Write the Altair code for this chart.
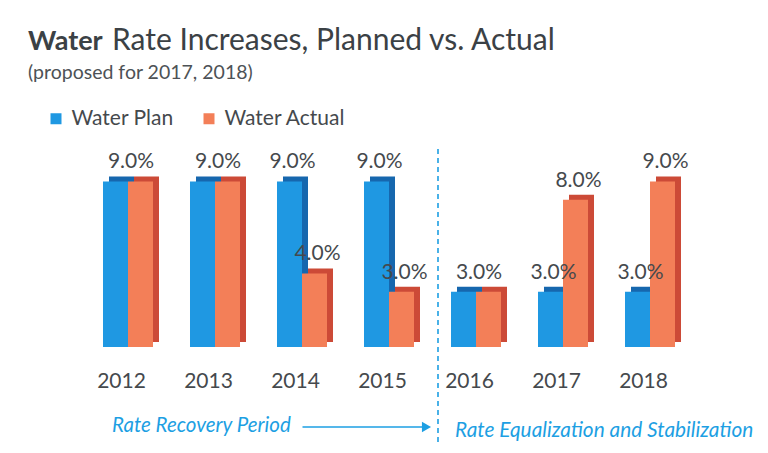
import altair as alt
import pandas as pd

# ---- data ----
years = ["2012", "2013", "2014", "2015", "2016", "2017", "2018"]
plan = [9.0, 9.0, 9.0, 9.0, 3.0, 3.0, 3.0]
actual = [9.0, 9.0, 4.0, 3.0, 3.0, 8.0, 9.0]
series = ["Water Plan", "Water Actual"]

title_bold = ["Water"]
title_rest = ["Rate Increases, Planned vs. Actual"]
subtitle = ["(proposed for 2017, 2018)"]
left_note = ["Rate Recovery Period"]
right_note = ["Rate Equalization and Stabilization"]

# ---- styling ----
FONT = "Lato"
face_colors = ["#1f98e2", "#f37f58"]
side_colors = ["#1667ae", "#cc4a37"]
note_color = "#1d9fe3"
text_color = "#45494d"
BW = 0.2874  # bar width in x units (one group = 1 unit)

rows = []
for i, y in enumerate(years):
    rows.append({"year": y, "i": i, "series": series[0], "value": plan[i]})
    rows.append({"year": y, "i": i, "series": series[1], "value": actual[i]})
bars = pd.DataFrame(rows)

lab_rows = []
for i, y in enumerate(years):
    if plan[i] == actual[i]:
        lab_rows.append({"i": i, "series": "Both", "value": plan[i]})
    else:
        lab_rows.append({"i": i, "series": series[0], "value": plan[i]})
        lab_rows.append({"i": i, "series": series[1], "value": actual[i]})
labels = pd.DataFrame(lab_rows)

xscale = alt.Scale(domain=[-0.5, 6.5], nice=False, zero=False)
yscale = alt.Scale(domain=[0, 10], nice=False)

year_axis = alt.Axis(
    values=list(range(len(years))),
    labelExpr=f"{years}[datum.value]",
    labelFont=FONT, labelFontSize=21, labelColor=text_color,
    labelPadding=23, labelOffset=-7, labelFlush=False, labelOverlap=False,
    labelBound=False, domain=False, ticks=False, grid=False, title=None,
)

base = alt.Chart(bars).transform_calculate(
    x0=f"datum.i + (datum.series == '{series[0]}' ? -{BW} : 0)",
    x1=f"datum.i + (datum.series == '{series[0]}' ? 0 : {BW})",
    side=f"datum.series == '{series[0]}' ? '{side_colors[0]}' : '{side_colors[1]}'",
)

side = base.mark_rect(xOffset=6, x2Offset=6, yOffset=-5, y2Offset=-5).encode(
    x=alt.X("x0:Q", scale=xscale, axis=year_axis),
    x2="x1:Q",
    y=alt.Y("value:Q", scale=yscale, axis=None),
    y2=alt.datum(0),
    fill=alt.Fill("side:N", scale=None),
)

face = base.mark_rect().encode(
    x=alt.X("x0:Q", scale=xscale, axis=year_axis),
    x2="x1:Q",
    y=alt.Y("value:Q", scale=yscale, axis=None),
    y2=alt.datum(0),
    color=alt.Color(
        "series:N",
        scale=alt.Scale(domain=series, range=face_colors),
        legend=alt.Legend(
            orient="none", legendX=-39, legendY=-55, direction="horizontal",
            title=None, symbolType="square", symbolSize=121, symbolStrokeWidth=0,
            labelFont=FONT, labelFontSize=21, labelColor=text_color,
            labelOffset=5, columnPadding=24,
        ),
    ),
)

value_labels = alt.Chart(labels).transform_calculate(
    xc=f"datum.i + (datum.series == '{series[0]}' ? -{BW / 2} : (datum.series == '{series[1]}' ? {BW / 2} : 0))",
    txt="format(datum.value, '.1f') + '%'",
).mark_text(
    font=FONT, fontSize=21, color=text_color, baseline="alphabetic", dy=-13, dx=3
).encode(
    x=alt.X("xc:Q", scale=xscale, axis=year_axis),
    y=alt.Y("value:Q", scale=yscale, axis=None),
    text="txt:N",
)

one = pd.DataFrame({"k": [0]})

divider = alt.Chart(one).mark_rule(
    color=note_color, strokeWidth=1.6, strokeDash=[5, 4]
).encode(x=alt.value(353.5), y=alt.value(-14), y2=alt.value(300))

arrow_line = alt.Chart(one).mark_rule(
    color=note_color, strokeWidth=1.5
).encode(x=alt.value(218), x2=alt.value(338), y=alt.value(264))

arrow_head = alt.Chart(one).mark_point(
    shape="triangle-right", filled=True, size=110, color=note_color, opacity=1
).encode(x=alt.value(342), y=alt.value(264))


def text_layer(values, x, y, size, color, weight="normal", style="normal"):
    return alt.Chart(pd.DataFrame({"t": values})).mark_text(
        align="left", baseline="alphabetic", font=FONT, fontSize=size,
        fontWeight=weight, fontStyle=style, color=color,
    ).encode(x=alt.value(x), y=alt.value(y), text="t:N")


t1 = text_layer(title_bold, -56.5, -113, 27, "#3b4145", weight="bold")
t2 = text_layer(title_rest, 27.5, -113, 30, "#3b4145")
t3 = text_layer(subtitle, -56.5, -84, 19.5, "#4d5256")
n1 = text_layer(left_note, 27.5, 269, 20.5, note_color, style="italic")
n2 = text_layer(right_note, 370.5, 274, 20.8, note_color, style="italic")

chart = alt.layer(
    side, face, value_labels, divider, arrow_line, arrow_head, t1, t2, t3, n1, n2
).properties(
    width=609, height=184,
    background="white",
    padding={"left": 76.5, "top": 155, "right": 66.5, "bottom": 98},
    autosize=alt.AutoSizeParams(type="none"),
).configure_view(stroke=None)

chart.save("out.html", embed_options={"renderer": "svg", "actions": False})
